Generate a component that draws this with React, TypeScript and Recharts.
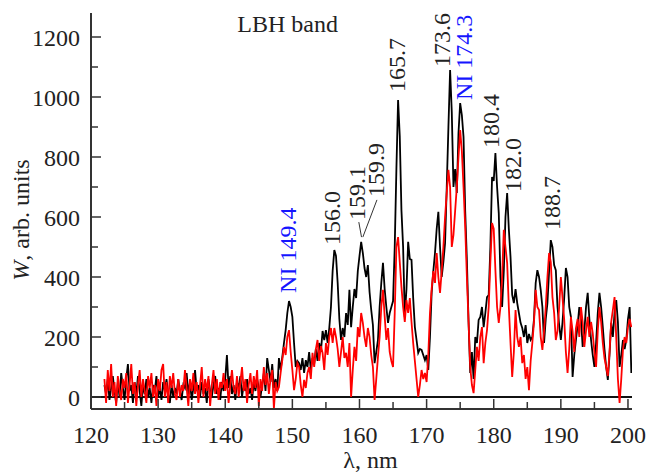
import { LineChart, Line, XAxis, YAxis, ReferenceLine, ReferenceDot } from "recharts"

// sampling grid of the spectra
const START_NM = 122
const STEP_NM = 0.25

// black trace, 4 samples per nm (row = one nm)
const blackSignal: number[] = [
  40, 10, 60, -10, // 122
  30, 70, 20, -20,
  50, 0, 80, 30,
  -10, 60, 110, 20, // 125
  40, -20, 50, 10,
  70, 20, -30, 40,
  10, 60, 0, 30,
  -20, 40, 20, 70,
  0, 30, -10, 50, // 130
  20, 60, 10, -20,
  40, 0, 30, 10,
  60, 20, -10, 40,
  30, 80, 10, 50,
  -10, 30, 90, 20, // 135
  40, 0, 50, 10,
  30, -20, 60, 20,
  0, 40, 70, 10,
  30, -10, 50, 20,
  60, 140, 30, 70, // 140
  10, 40, -10, 50,
  30, 70, 0, 40,
  20, 60, 10, 30,
  -10, 50, 20, 60,
  30, 0, 40, 80, // 145
  20, 130, 90, 50,
  110, 30, 60, 20,
  130, 90, 133, 180,
  223, 280, 320, 300,
  267, 180, 100, 120, // 150
  113, 90, 130, 80,
  123, 100, 150, 90,
  130, 110, 160, 120,
  180, 150, 220, 190,
  223, 180, 230, 300, // 155
  420, 490, 470, 380,
  260, 190, 230, 200,
  280, 240, 357, 233,
  300, 360, 330, 420,
  470, 517, 480, 430, // 160
  400, 440, 350, 290,
  240, 113, 150, 190,
  300, 380, 447, 360,
  300, 247, 280, 300,
  320, 500, 760, 990, // 165
  870, 623, 500, 267,
  360, 517, 460, 457,
  330, 233, 190, 147,
  160, 157, 140, 123,
  140, 90, 200, 347, // 170
  420, 480, 560, 617,
  500, 400, 450, 513,
  700, 900, 1090, 950,
  700, 760, 680, 880,
  980, 940, 867, 620, // 175
  457, 250, 80, 150,
  60, 200, 180, 257,
  267, 300, 233, 280,
  333, 340, 500, 733,
  720, 813, 700, 613, // 180
  400, 300, 420, 600,
  680, 560, 467, 340,
  313, 360, 313, 280,
  247, 230, 200, 240,
  180, 210, 190, 200, // 185
  260, 380, 423, 400,
  357, 300, 180, 260,
  313, 420, 523, 500,
  440, 423, 300, 240,
  190, 250, 330, 430, // 190
  400, 300, 267, 67,
  140, 190, 240, 300,
  260, 167, 220, 300,
  347, 260, 190, 140,
  100, 180, 280, 347, // 195
  300, 233, 160, 100,
  57, 140, 247, 200,
  280, 323, 250, 100,
  140, 190, 160, 190,
  260, 300, 80, // 200
]

// red trace, same grid
const redSignal: number[] = [
  60, -20, 90, 20, // 122
  110, 0, 50, -30,
  70, 20, -10, 60,
  30, 80, -20, 40, // 125
  110, 10, 50, -30,
  40, 90, 0, 60,
  20, -20, 70, 30,
  80, 0, 40, -30,
  60, 20, 90, 110, // 130
  0, 50, -20, 70,
  30, 80, 10, -10,
  60, 0, 40, 20,
  90, 30, -30, 60,
  20, 80, 10, 50, // 135
  -20, 40, 100, 0,
  60, 20, 70, -30,
  40, 90, 10, 60,
  -10, 50, 30, 80,
  20, 60, -20, 40, // 140
  90, 30, 10, 70,
  0, 50, 100, 20,
  60, -20, 40, 80,
  10, 70, 30, 90,
  -30, 60, 20, 100, // 145
  40, 80, 10, 60,
  90, -40, 50, 20,
  33, 80, 123, 167,
  140, 200, 223, 150,
  90, 23, 60, 113, // 150
  100, 40, 0, 57,
  30, 80, 100, 60,
  147, 100, 160, 190,
  120, 170, 147, 90,
  180, 140, 200, 230, // 155
  180, 230, 200, 160,
  100, 150, 200, 130,
  147, 100, 180, 0,
  90, 167, 120, 233,
  200, 280, 247, 200, // 160
  167, 230, 200, 140,
  100, -10, 60, 133,
  200, 300, 357, 270,
  190, 230, 150, 120,
  100, 280, 500, 533, // 165
  450, 367, 300, 250,
  323, 280, 330, 250,
  180, 120, 60, 0,
  40, 90, 60, 80,
  50, 140, 280, 360, // 170
  420, 380, 480, 400,
  347, 420, 500, 600,
  680, 757, 700, 500,
  540, 620, 700, 800,
  890, 820, 700, 567, // 175
  400, 250, 100, 40,
  13, 90, 167, 120,
  200, 233, 113, 180,
  223, 300, 450, 580,
  560, 423, 300, 247, // 180
  300, 400, 557, 500,
  447, 300, 180, 67,
  150, 290, 200, 167,
  200, 113, 140, 60,
  100, 23, 120, 180, // 185
  250, 357, 300, 290,
  200, 157, 220, 300,
  400, 480, 450, 333,
  280, 190, 220, 300,
  400, 330, 257, 150, // 190
  80, 160, 267, 220,
  150, 230, 260, 200,
  300, 250, 167, 220,
  267, 200, 250, 213,
  150, 100, 220, 300, // 195
  250, 180, 130, 100,
  70, 150, 250, 290,
  333, 200, 60, -20,
  60, 157, 200, 180,
  233, 260, 233, // 200
]

const xTicks = [120, 125, 130, 135, 140, 145, 150, 155, 160, 165, 170, 175, 180, 185, 190, 195, 200]
const yTicks = [0, 100, 200, 300, 400, 500, 600, 700, 800, 900, 1000, 1100, 1200]

// peak tags: text, wavelength and level where the (rotated) text starts
const peakTags = [
  { text: "NI 149.4", nm: 149.3, level: 347, blue: true },
  { text: "156.0", nm: 155.95, level: 507, blue: false },
  { text: "159.1", nm: 159.7, level: 590, blue: false },
  { text: "159.9", nm: 162.5, level: 667, blue: false },
  { text: "165.7", nm: 165.6, level: 1017, blue: false },
  { text: "173.6", nm: 172.3, level: 1100, blue: false },
  { text: "NI 174.3", nm: 175.6, level: 990, blue: true },
  { text: "180.4", nm: 179.6, level: 830, blue: false },
  { text: "182.0", nm: 182.9, level: 683, blue: false },
  { text: "188.7", nm: 188.7, level: 557, blue: false },
]

// leader lines from the 159.x tags to their peak
const leaders = [
  [{ x: 159.9, y: 583 }, { x: 160.3, y: 533 }],
  [{ x: 162.6, y: 657 }, { x: 160.5, y: 533 }],
]

const data = blackSignal.map((b, i) => ({
  nm: START_NM + i * STEP_NM,
  black: b,
  red: redSignal[i],
}))

const TEXT = "#222"
const BLUE = "#1515ff"
const FONT = 24
const SERIF = "'Liberation Serif', 'DejaVu Serif', 'Times New Roman', Times, serif"
const textStyle = { fontFamily: SERIF }

function XTick(props: any) {
  const { x, y, payload } = props
  const v = payload.value
  const axisY = y - 17
  const major = v % 10 === 0
  return (
    <g>
      <line x1={x} x2={x} y1={axisY} y2={axisY - (major ? 10 : 7)} stroke="#333" strokeWidth={1.5} />
      {major && (
        <text x={x} y={y} dy="0.71em" textAnchor="middle" fill={TEXT} fontSize={FONT} style={textStyle}>
          {v}
        </text>
      )}
    </g>
  )
}

function YTick(props: any) {
  const { x, y, payload } = props
  const v = payload.value
  const axisX = x + 11
  const major = v % 200 === 0
  return (
    <g>
      <line x1={axisX} x2={axisX + (major ? 10 : 7)} y1={y} y2={y} stroke="#333" strokeWidth={1.5} />
      {major && (
        <text x={x} y={y} dy="0.36em" textAnchor="end" fill={TEXT} fontSize={FONT} style={textStyle}>
          {v}
        </text>
      )}
    </g>
  )
}

function tagLabel(text: string, color: string) {
  return (p: any) => {
    const { x, y } = p.viewBox
    return (
      <text
        x={x}
        y={y}
        transform={`rotate(-90 ${x} ${y})`}
        textAnchor="start"
        dominantBaseline="central"
        fill={color}
        fontSize={FONT}
        style={textStyle}
      >
        {text}
      </text>
    )
  }
}

export default function App() {
  return (
    <div
      style={{
        position: "absolute",
        left: 0,
        top: 0,
        width: 648,
        height: 473,
        background: "#fff",
        fontFamily: SERIF,
      }}
    >
      <LineChart
        width={648}
        height={473}
        data={data}
        margin={{ top: 13, right: 16, bottom: 0, left: 0 }}
        style={textStyle}
      >
        <XAxis
          dataKey="nm"
          type="number"
          domain={[120, 200.6]}
          ticks={xTicks}
          interval={0}
          allowDataOverflow
          height={64}
          tickSize={0}
          tickMargin={17}
          tickLine={false}
          axisLine={{ stroke: "#333", strokeWidth: 2 }}
          tick={(p: any) => <XTick {...p} />}
          label={(p: any) => {
            const vb = p.viewBox
            return (
              <text
                x={vb.x + vb.width / 2 + 9}
                y={vb.y + 59}
                textAnchor="middle"
                fill={TEXT}
                fontSize={FONT}
                style={textStyle}
              >
                λ, nm
              </text>
            )
          }}
        />
        <YAxis
          type="number"
          domain={[-40, 1280]}
          ticks={yTicks}
          interval={0}
          allowDataOverflow
          width={91}
          tickSize={0}
          tickMargin={11}
          tickLine={false}
          axisLine={{ stroke: "#333", strokeWidth: 2 }}
          tick={(p: any) => <YTick {...p} />}
          label={(p: any) => {
            const vb = p.viewBox
            const cx = vb.x + 21
            const cy = vb.y + vb.height / 2 + 9
            return (
              <text
                x={cx}
                y={cy}
                transform={`rotate(-90 ${cx} ${cy})`}
                textAnchor="middle"
                dominantBaseline="central"
                fill={TEXT}
                fontSize={FONT}
                style={textStyle}
              >
                <tspan fontStyle="italic">W</tspan>
                <tspan>, arb. units</tspan>
              </text>
            )
          }}
        />
        <ReferenceLine y={0} stroke="#111" strokeWidth={2} />
        <Line
          dataKey="black"
          type="linear"
          stroke="#000"
          strokeWidth={1.8}
          dot={false}
          isAnimationActive={false}
        />
        <Line
          dataKey="red"
          type="linear"
          stroke="#ff0000"
          strokeWidth={1.8}
          dot={false}
          isAnimationActive={false}
        />
        {leaders.map((seg, i) => (
          <ReferenceLine key={`ld${i}`} segment={seg} stroke="#333" strokeWidth={1} />
        ))}
        {peakTags.map((t) => (
          <ReferenceDot
            key={t.text}
            x={t.nm}
            y={t.level}
            r={0}
            fill="none"
            stroke="none"
            label={tagLabel(t.text, t.blue ? BLUE : TEXT)}
          />
        ))}
        <ReferenceDot
          x={156.8}
          y={1217}
          r={0}
          fill="none"
          stroke="none"
          label={(p: any) => (
            <text
              x={p.viewBox.x}
              y={p.viewBox.y}
              textAnchor="end"
              fill={TEXT}
              fontSize={FONT}
              style={textStyle}
            >
              LBH band
            </text>
          )}
        />
      </LineChart>
    </div>
  )
}
